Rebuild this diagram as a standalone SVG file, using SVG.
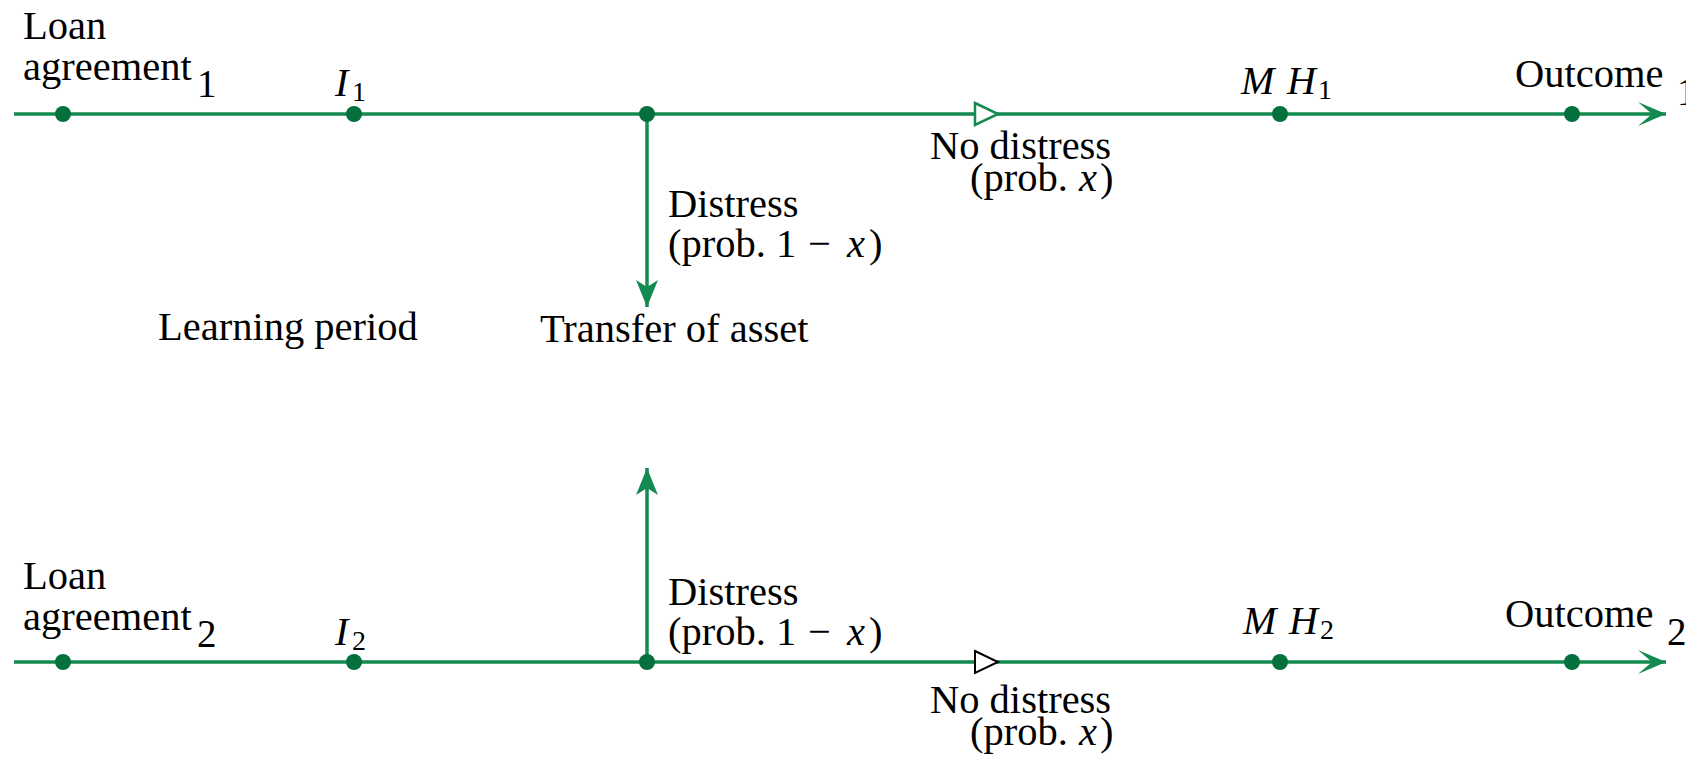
<svg xmlns="http://www.w3.org/2000/svg" width="1686" height="758" viewBox="0 0 1686 758">
<style>
  text { font-family: "Liberation Serif", "Times New Roman", serif; font-size: 40.5px; fill: #000; }
  .m { font-style: italic; font-size: 40px; }
  .sub { font-size: 28px; }
  .idx { font-size: 39px; }
  .ln { stroke: #138a4f; stroke-width: 3.5; fill: none; }
  .dot { fill: #05703e; }
  .tri-g { fill: #fff; stroke: #138a4f; stroke-width: 2.5; }
  .tri-k { fill: #fff; stroke: #000; stroke-width: 2; }
</style>
<defs>
  <marker id="ah" markerUnits="userSpaceOnUse" viewBox="-30 -13 31 26" refX="0" refY="0" markerWidth="31" markerHeight="26" orient="auto">
    <path d="M0,0 L-28,-12 L-14,0 L-28,12 Z" fill="#138a4f"/>
  </marker>
  <marker id="av" markerUnits="userSpaceOnUse" viewBox="-30 -13 31 26" refX="0" refY="0" markerWidth="31" markerHeight="26" orient="auto">
    <path d="M0,0 L-27,-11 L-20,0 L-27,11 Z" fill="#138a4f"/>
  </marker>
</defs>

<g id="connectors">
  <line class="ln" x1="14" y1="114" x2="1666" y2="114" marker-end="url(#ah)"/>
  <line class="ln" x1="647" y1="114" x2="647" y2="307" marker-end="url(#av)"/>
  <line class="ln" x1="14" y1="662" x2="1666" y2="662" marker-end="url(#ah)"/>
  <line class="ln" x1="647" y1="662" x2="647" y2="468" marker-end="url(#av)"/>
  <path class="tri-g" d="M975,103 L998,114 L975,125 Z"/>
  <path class="tri-k" d="M975,651 L998,662 L975,673 Z"/>
</g>

<g id="loan1">
  <circle class="dot" cx="63" cy="114" r="8"/>
  <text x="23" y="39">Loan</text>
  <text x="23" y="80">agreement</text>
  <text class="idx" x="197" y="97">1</text>
</g>
<g id="i1">
  <circle class="dot" cx="354" cy="114" r="8"/>
  <text class="m" x="335" y="96">I</text>
  <text class="sub" x="352" y="101">1</text>
</g>
<g id="branch1">
  <circle class="dot" cx="647" cy="114" r="8"/>
  <text x="668" y="217">Distress</text>
  <text y="257"><tspan x="668">(prob.</tspan><tspan x="776">1</tspan><tspan x="808">−</tspan><tspan x="847" font-style="italic">x</tspan><tspan x="869">)</tspan></text>
  <text x="540" y="342">Transfer of asset</text>
</g>
<g id="nodistress1">
  <text x="930" y="159">No distress</text>
  <text y="191"><tspan x="970">(prob.</tspan><tspan x="1079" font-style="italic">x</tspan><tspan x="1100">)</tspan></text>
</g>
<g id="learning">
  <text x="158" y="340">Learning period</text>
</g>
<g id="mh1">
  <circle class="dot" cx="1280" cy="114" r="8"/>
  <text class="m" x="1241" y="94">M</text>
  <text class="m" x="1287" y="94">H</text>
  <text class="sub" x="1318" y="99">1</text>
</g>
<g id="outcome1">
  <circle class="dot" cx="1572" cy="114" r="8"/>
  <text x="1515" y="87">Outcome</text>
  <text class="idx" x="1677" y="105">1</text>
</g>

<g id="loan2">
  <circle class="dot" cx="63" cy="662" r="8"/>
  <text x="23" y="589">Loan</text>
  <text x="23" y="630">agreement</text>
  <text class="idx" x="197" y="647">2</text>
</g>
<g id="i2">
  <circle class="dot" cx="354" cy="662" r="8"/>
  <text class="m" x="335" y="645">I</text>
  <text class="sub" x="352" y="650">2</text>
</g>
<g id="branch2">
  <circle class="dot" cx="647" cy="662" r="8"/>
  <text x="668" y="605">Distress</text>
  <text y="645"><tspan x="668">(prob.</tspan><tspan x="776">1</tspan><tspan x="808">−</tspan><tspan x="847" font-style="italic">x</tspan><tspan x="869">)</tspan></text>
</g>
<g id="nodistress2">
  <text x="930" y="713">No distress</text>
  <text y="745"><tspan x="970">(prob.</tspan><tspan x="1079" font-style="italic">x</tspan><tspan x="1100">)</tspan></text>
</g>
<g id="mh2">
  <circle class="dot" cx="1280" cy="662" r="8"/>
  <text class="m" x="1243" y="634">M</text>
  <text class="m" x="1289" y="634">H</text>
  <text class="sub" x="1320" y="639">2</text>
</g>
<g id="outcome2">
  <circle class="dot" cx="1572" cy="662" r="8"/>
  <text x="1505" y="627">Outcome</text>
  <text class="idx" x="1667" y="645">2</text>
</g>
</svg>
